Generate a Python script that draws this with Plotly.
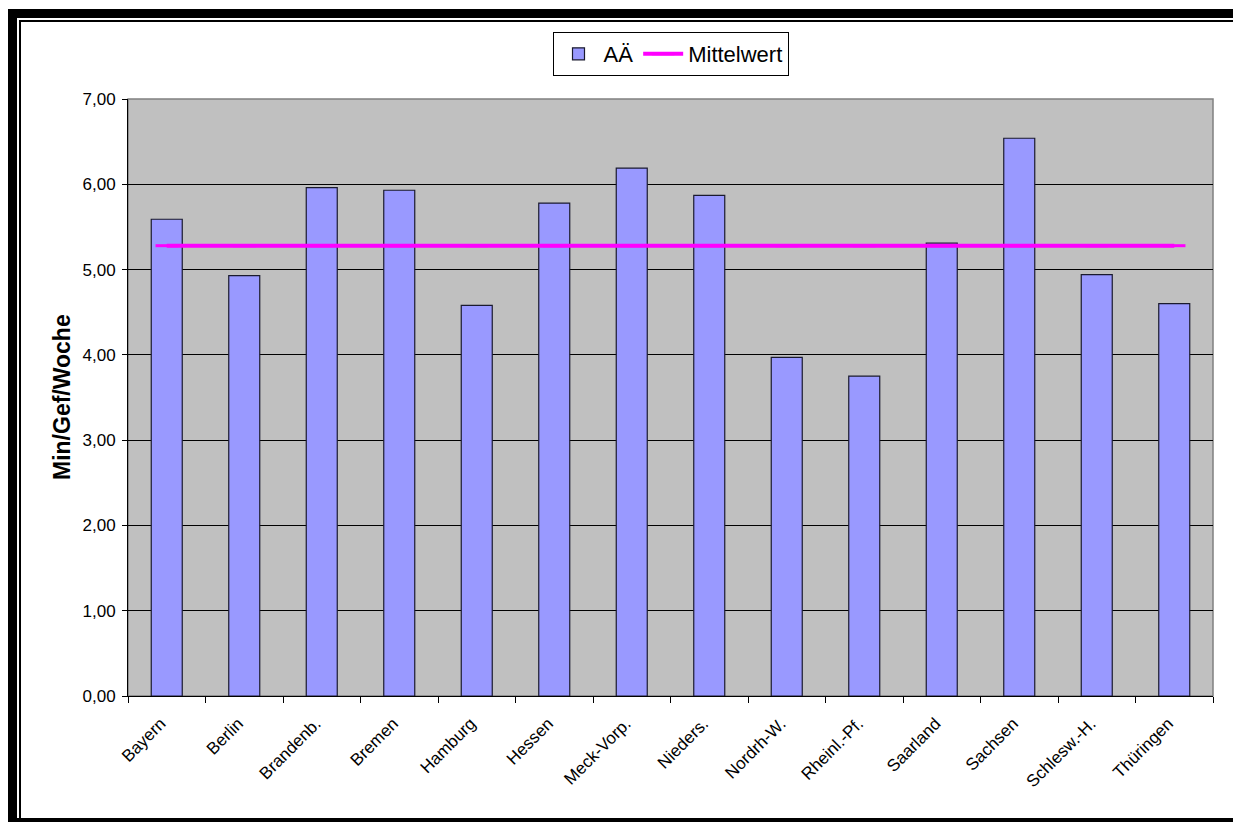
import plotly.graph_objects as go

categories = ["Bayern", "Berlin", "Brandenb.", "Bremen", "Hamburg", "Hessen", "Meck-Vorp.",
              "Nieders.", "Nordrh-W.", "Rheinl.-Pf.", "Saarland", "Sachsen", "Schlesw.-H.", "Thüringen"]
aa_values = [5.59, 4.93, 5.96, 5.93, 4.58, 5.78, 6.19, 5.87, 3.97, 3.75, 5.31, 6.54, 4.94, 4.60]
mittelwert = [5.28] * len(categories)
y_ticks = [0, 1, 2, 3, 4, 5, 6, 7]

W, H = 1233, 822
L, R, T, B = 128, 1213, 99, 696
PW, PH = R - L, B - T


def px(x):
    return (x - L) / PW


def py(y):
    return (B - y) / PH


FONT = "Liberation Sans, Arial, sans-serif"

fig = go.Figure()
fig.add_trace(go.Bar(
    x=categories, y=aa_values, name="AÄ",
    marker=dict(color="#9999FF", line=dict(color="#1a1a2e", width=1.2)),
))
fig.add_trace(go.Scatter(
    x=categories, y=mittelwert, name="Mittelwert", mode="lines+markers",
    line=dict(color="#FF00FF", width=4),
    marker=dict(symbol="line-ew", size=16, color="#FF00FF",
                line=dict(color="#FF00FF", width=3)),
))

frame = [
    (8, 9, W + 5, 18),      # top thick
    (8, 9, 17, H + 5),      # left thick
    (19, 20, W + 5, 22),    # inner top thin
    (19, 20, 21, 819),      # inner left thin
    (8, 818, W + 5, H + 5), # bottom
]
shapes = []
for x0, y0, x1, y1 in frame:
    shapes.append(dict(type="rect", xref="paper", yref="paper",
                       x0=px(x0), x1=px(x1), y0=py(y1), y1=py(y0),
                       fillcolor="black", line=dict(width=0), layer="above"))
shapes.append(dict(type="rect", xref="paper", yref="paper", x0=0, x1=1, y0=0, y1=1,
                   line=dict(color="#808080", width=1.5), fillcolor="rgba(0,0,0,0)",
                   layer="below"))

fig.update_layout(
    width=W, height=H,
    margin=dict(l=L, r=W - R, t=T, b=H - B, pad=0),
    paper_bgcolor="white", plot_bgcolor="#C0C0C0",
    separators=",.",
    font=dict(family=FONT, size=17, color="black"),
    bargap=0.6,
    showlegend=True,
    legend=dict(orientation="h", x=0.5, xanchor="center", y=py(32), yanchor="top",
                bordercolor="black", borderwidth=1, bgcolor="white",
                font=dict(family=FONT, size=22, color="black"),
                itemwidth=40, tracegroupgap=0),
    shapes=shapes,
    xaxis=dict(type="category", range=[-0.5, len(categories) - 0.5], autorange=False,
               showgrid=False, showline=True, linecolor="black",
               linewidth=1, ticks="outside", tickson="boundaries", ticklen=6,
               tickcolor="black", tickangle=-45, ticklabelstandoff=10,
               ticklabelshift=-6,
               tickfont=dict(family=FONT, size=17, color="black")),
    yaxis=dict(range=[0, 7], tickvals=y_ticks, tickformat=".2f", showgrid=True,
               gridcolor="black", gridwidth=1, showline=True, linecolor="black",
               linewidth=1, ticks="outside", ticklen=5, tickcolor="black",
               ticklabelstandoff=3,
               zeroline=False, tickfont=dict(family=FONT, size=17, color="black")),
    annotations=[dict(text="<b>Min/Gef/Woche</b>", xref="paper", yref="paper",
                      x=px(62), y=py(397), xanchor="center", yanchor="middle",
                      textangle=-90, showarrow=False,
                      font=dict(family=FONT, size=23, color="black"))],
)

fig.write_html("out.html")
